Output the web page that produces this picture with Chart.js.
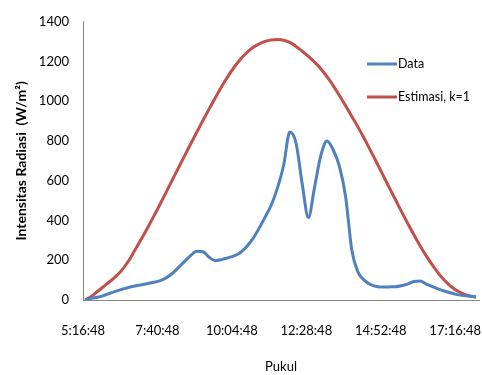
<!DOCTYPE html>
<html>
<head>
<meta charset="utf-8">
<script src="https://cdn.jsdelivr.net/npm/chart.js@4.4.1/dist/chart.umd.min.js"></script>
<style>
  html, body { margin: 0; padding: 0; background: #fff; }
  #wrap { width: 482px; height: 375px; }
</style>
</head>
<body>
<div id="wrap"><canvas id="grafik" width="482" height="375"></canvas></div>
<script>
// Jam pengukuran (interval 12 menit)
const waktu = [
  '5:20:48', '5:32:48', '5:44:48', '5:56:48', '6:08:48', '6:20:48', '6:32:48', '6:44:48',
  '6:56:48', '7:08:48', '7:20:48', '7:32:48', '7:44:48', '7:56:48', '8:08:48', '8:20:48',
  '8:32:48', '8:44:48', '8:56:48', '9:08:48', '9:20:48', '9:32:48', '9:44:48', '9:56:48',
  '10:08:48', '10:20:48', '10:32:48', '10:44:48', '10:56:48', '11:08:48', '11:20:48', '11:32:48',
  '11:44:48', '11:56:48', '12:08:48', '12:20:48', '12:32:48', '12:44:48', '12:56:48', '13:08:48',
  '13:20:48', '13:32:48', '13:44:48', '13:56:48', '14:08:48', '14:20:48', '14:32:48', '14:44:48',
  '14:56:48', '15:08:48', '15:20:48', '15:32:48', '15:44:48', '15:56:48', '16:08:48', '16:20:48',
  '16:32:48', '16:44:48', '16:56:48', '17:08:48', '17:20:48', '17:32:48', '17:44:48', '17:56:48'
];

// Intensitas radiasi terukur (W/m2)
const dataUkur = [
  0, 8, 14, 22, 34, 45, 54, 63,
  70, 76, 82, 89, 96, 110, 132, 162,
  193, 223, 245, 243, 215, 198, 203, 212,
  222, 238, 267, 306, 358, 416, 477, 563,
  677, 845, 790, 585, 415, 569, 726, 800,
  755, 673, 520, 250, 140, 100, 78, 68,
  65, 66, 67, 72, 80, 93, 95, 80,
  67, 55, 44, 35, 27, 22, 19, 16
];

// Estimasi, k=1
const dataEstimasi = [
  0, 18, 43, 68, 93, 120, 153, 196,
  249, 303, 359, 417, 477, 538, 600, 662,
  723, 784, 844, 903, 961, 1018, 1073, 1124,
  1170, 1210, 1243, 1269, 1288, 1301, 1308, 1311,
  1307, 1296, 1276, 1252, 1226, 1197, 1164, 1124,
  1079, 1029, 977, 924, 870, 813, 753, 692,
  630, 568, 507, 446, 386, 328, 273, 222,
  175, 133, 97, 68, 46, 31, 21, 14
];

// Label sumbu x
const labelPukul = ['5:16:48', '7:40:48', '10:04:48', '12:28:48', '14:52:48', '17:16:48'];

// ubah jam ke menit sejak label pertama
const keMenit = t => {
  const [h, m, s] = t.split(':').map(Number);
  return h * 60 + m + s / 60;
};
const awal = keMenit(labelPukul[0]);
const xDari = t => keMenit(t) - awal;

const titik = arr => arr.map((v, i) => ({ x: xDari(waktu[i]), y: v }));

const fontDasar = 'Lato, "Liberation Sans", sans-serif';

// legenda di kanan atas, seperti di Excel
const legendaPlugin = {
  id: 'legendaKanan',
  afterDraw(chart) {
    const ctx = chart.ctx;
    ctx.save();
    chart.data.datasets.forEach((ds, i) => {
      const y = 64 + i * 33;
      ctx.strokeStyle = ds.borderColor;
      ctx.lineWidth = 3;
      ctx.beginPath();
      ctx.moveTo(367, y);
      ctx.lineTo(397, y);
      ctx.stroke();
      ctx.fillStyle = '#000';
      ctx.font = '12.5px ' + fontDasar;
      ctx.textBaseline = 'middle';
      ctx.fillText(ds.label, 398, y);
    });
    ctx.restore();
  }
};

new Chart(document.getElementById('grafik'), {
  type: 'line',
  data: {
    datasets: [
      {
        label: 'Data',
        data: titik(dataUkur),
        borderColor: '#4F81BD',
        borderWidth: 3,
        pointRadius: 0,
        cubicInterpolationMode: 'monotone',
        fill: false
      },
      {
        label: 'Estimasi, k=1',
        data: titik(dataEstimasi),
        borderColor: '#C0504D',
        borderWidth: 3,
        pointRadius: 0,
        tension: 0.4,
        fill: false
      }
    ]
  },
  options: {
    responsive: false,
    animation: false,
    layout: { padding: { top: 17, right: 3, left: 0, bottom: 0 } },
    plugins: {
      legend: { display: false },
      tooltip: { enabled: false }
    },
    scales: {
      x: {
        type: 'linear',
        min: 0,
        max: 766,
        grid: { display: true, drawOnChartArea: false, drawTicks: false },
        border: { color: '#868686', width: 1 },
        afterBuildTicks: scale => {
          scale.ticks = labelPukul.map(t => ({ value: xDari(t) }));
        },
        afterFit: scale => {
          scale.height = 75;
          scale.paddingLeft = 0;
          scale.paddingRight = 0;
        },
        ticks: {
          autoSkip: false,
          maxRotation: 0,
          padding: 23,
          color: '#000',
          font: { family: fontDasar, size: 13 },
          callback: (v, i) => labelPukul[i]
        },
        title: {
          display: true,
          text: 'Pukul',
          color: '#000',
          font: { family: fontDasar, size: 13, lineHeight: 1.2 },
          padding: { top: 0, bottom: 0 }
        }
      },
      y: {
        min: 0,
        max: 1400,
        grid: { display: true, drawOnChartArea: false, drawTicks: false },
        border: { color: '#868686', width: 1 },
        afterFit: scale => { scale.width = 83; },
        ticks: {
          stepSize: 200,
          padding: 14,
          color: '#000',
          font: { family: fontDasar, size: 13 },
          callback: v => String(v)
        },
        title: {
          display: true,
          text: 'Intensitas Radiasi  (W/m²)',
          color: '#000',
          font: { family: fontDasar, size: 14, weight: 'bold', lineHeight: 1.2 },
          padding: { top: 12.6, bottom: 4 }
        }
      }
    }
  },
  plugins: [legendaPlugin]
});
</script>
</body>
</html>
